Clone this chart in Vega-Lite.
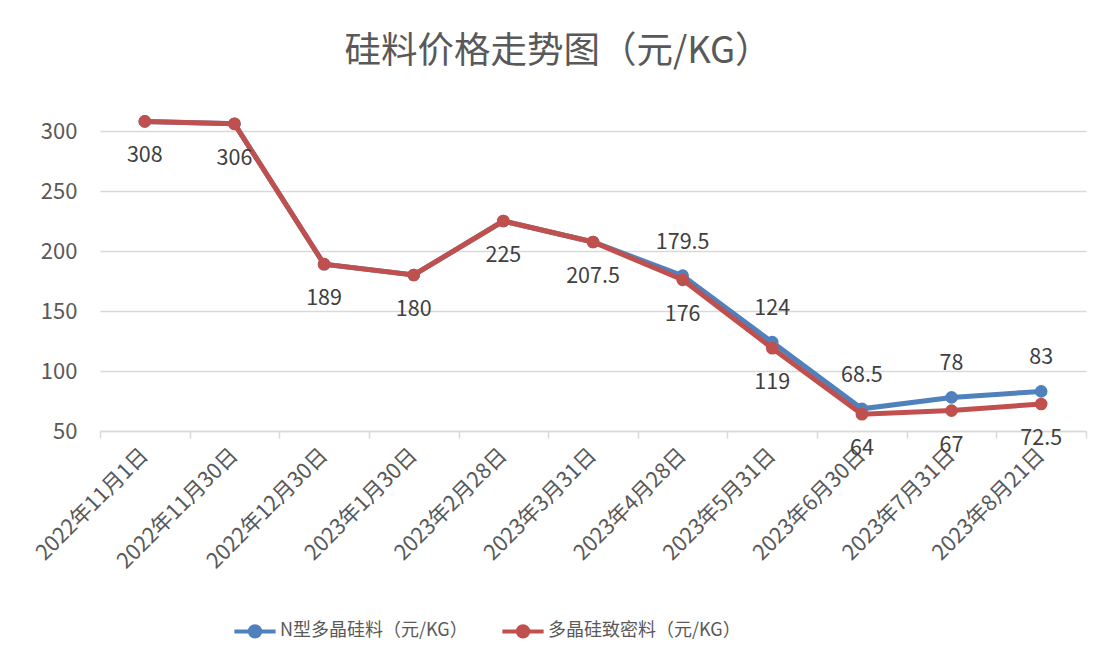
{
  "$schema": "https://vega.github.io/schema/vega-lite/v6.json",
  "width": 986,
  "height": 300,
  "autosize": "none",
  "padding": {"left": 100, "top": 131, "right": 24, "bottom": 232},
  "background": "white",
  "config": {
    "view": {"stroke": null},
    "font": "Noto Sans CJK SC"
  },
  "title": {
    "text": "硅料价格走势图（元/KG）",
    "font": "Noto Sans CJK SC",
    "fontSize": 36.5,
    "fontWeight": "normal",
    "color": "#595959",
    "anchor": "middle",
    "dx": -35,
    "offset": 41
  },
  "data": {
    "values": [
      {"date": "2022年11月1日", "series": "N型多晶硅料（元/KG）", "value": 308},
      {"date": "2022年11月30日", "series": "N型多晶硅料（元/KG）", "value": 306},
      {"date": "2022年12月30日", "series": "N型多晶硅料（元/KG）", "value": 189},
      {"date": "2023年1月30日", "series": "N型多晶硅料（元/KG）", "value": 180},
      {"date": "2023年2月28日", "series": "N型多晶硅料（元/KG）", "value": 225},
      {"date": "2023年3月31日", "series": "N型多晶硅料（元/KG）", "value": 207.5},
      {"date": "2023年4月28日", "series": "N型多晶硅料（元/KG）", "value": 179.5},
      {"date": "2023年5月31日", "series": "N型多晶硅料（元/KG）", "value": 124},
      {"date": "2023年6月30日", "series": "N型多晶硅料（元/KG）", "value": 68.5},
      {"date": "2023年7月31日", "series": "N型多晶硅料（元/KG）", "value": 78},
      {"date": "2023年8月21日", "series": "N型多晶硅料（元/KG）", "value": 83},
      {"date": "2022年11月1日", "series": "多晶硅致密料（元/KG）", "value": 308},
      {"date": "2022年11月30日", "series": "多晶硅致密料（元/KG）", "value": 306},
      {"date": "2022年12月30日", "series": "多晶硅致密料（元/KG）", "value": 189},
      {"date": "2023年1月30日", "series": "多晶硅致密料（元/KG）", "value": 180},
      {"date": "2023年2月28日", "series": "多晶硅致密料（元/KG）", "value": 225},
      {"date": "2023年3月31日", "series": "多晶硅致密料（元/KG）", "value": 207.5},
      {"date": "2023年4月28日", "series": "多晶硅致密料（元/KG）", "value": 176},
      {"date": "2023年5月31日", "series": "多晶硅致密料（元/KG）", "value": 119},
      {"date": "2023年6月30日", "series": "多晶硅致密料（元/KG）", "value": 64},
      {"date": "2023年7月31日", "series": "多晶硅致密料（元/KG）", "value": 67},
      {"date": "2023年8月21日", "series": "多晶硅致密料（元/KG）", "value": 72.5}
    ]
  },
  "encoding": {
    "x": {
      "field": "date",
      "type": "ordinal",
      "sort": null,
      "scale": {"type": "band", "paddingInner": 0, "paddingOuter": 0},
      "axis": {
        "title": null,
        "labelAngle": -45,
        "labelAlign": "right",
        "labelBaseline": "middle",
        "labelFontSize": 21.5,
        "labelColor": "#595959",
        "labelPadding": 14,
        "labelLimit": 0,
        "tickBand": "extent",
        "domainColor": "#D9D9D9",
        "domainWidth": 1.5,
        "tickColor": "#D9D9D9",
        "tickWidth": 1.5,
        "tickSize": 7,
        "grid": false
      }
    },
    "y": {
      "field": "value",
      "type": "quantitative",
      "scale": {"domain": [50, 300], "nice": false, "zero": false},
      "axis": {
        "title": null,
        "values": [50, 100, 150, 200, 250, 300],
        "domain": false,
        "ticks": false,
        "labelFontSize": 22,
        "labelColor": "#595959",
        "labelPadding": 23,
        "gridColor": "#D9D9D9",
        "gridWidth": 1.5
      }
    },
    "color": {
      "field": "series",
      "type": "nominal",
      "scale": {
        "domain": ["N型多晶硅料（元/KG）", "多晶硅致密料（元/KG）"],
        "range": ["#4F81BD", "#C0504D"]
      },
      "legend": {
        "title": null,
        "orient": "none",
        "legendX": 132,
        "legendY": 477,
        "direction": "horizontal",
        "labelFontSize": 18,
        "labelColor": "#595959",
        "labelLimit": 0,
        "labelOffset": 2,
        "symbolType": "M-1,0L1,0M-0.25,0A0.25,0.25 0 1,0 0.25,0A0.25,0.25 0 1,0 -0.25,0Z",
        "symbolSize": 1700,
        "symbolStrokeWidth": 4,
        "columnPadding": 26
      }
    }
  },
  "layer": [
    {
      "transform": [{"filter": "datum.series == 'N型多晶硅料（元/KG）'"}],
      "mark": {"type": "line", "strokeWidth": 5, "clip": false}
    },
    {
      "transform": [{"filter": "datum.series == 'N型多晶硅料（元/KG）'"}],
      "mark": {"type": "point", "filled": true, "size": 160, "opacity": 1, "clip": false}
    },
    {
      "transform": [{"filter": "datum.series == '多晶硅致密料（元/KG）'"}],
      "mark": {"type": "line", "strokeWidth": 5, "clip": false}
    },
    {
      "transform": [{"filter": "datum.series == '多晶硅致密料（元/KG）'"}],
      "mark": {"type": "point", "filled": true, "size": 160, "opacity": 1, "clip": false}
    },
    {
      "transform": [
        {"filter": "datum.series == 'N型多晶硅料（元/KG）'"},
        {"filter": {"field": "date", "oneOf": ["2023年4月28日", "2023年5月31日", "2023年6月30日", "2023年7月31日", "2023年8月21日"]}}
      ],
      "mark": {"type": "text", "dy": -33, "fontSize": 21.5, "color": "#404040"},
      "encoding": {"text": {"field": "value", "type": "quantitative"}, "color": {"value": "#404040"}}
    },
    {
      "transform": [{"filter": "datum.series == '多晶硅致密料（元/KG）'"}],
      "mark": {"type": "text", "dy": 35, "fontSize": 21.5, "color": "#404040"},
      "encoding": {"text": {"field": "value", "type": "quantitative"}, "color": {"value": "#404040"}}
    }
  ]
}
